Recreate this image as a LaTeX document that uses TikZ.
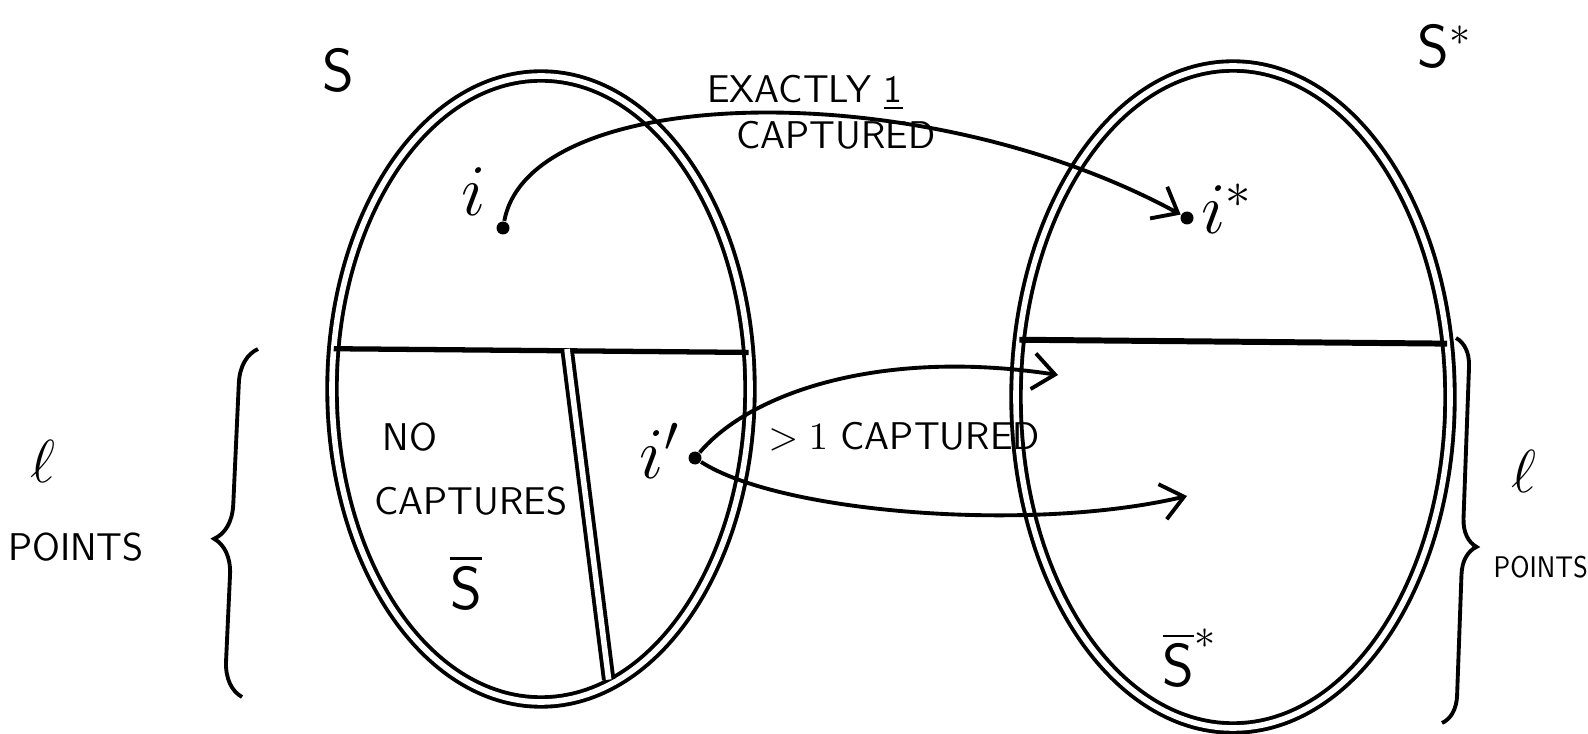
\documentclass[tikz,border=0pt]{standalone}
\usepackage{amsmath}
\usepackage{amssymb}
\usepackage{tikz}
\usetikzlibrary{shapes.geometric,decorations.pathreplacing,arrows.meta}

\begin{document}
\begin{tikzpicture}[>={Straight Barb[length=2.2mm,width=3.6mm]},
    blob/.style={draw, ellipse, double, double distance=1.6pt, line width=1.1pt, inner sep=0pt, outer sep=0pt},
    pt/.style={circle, fill, inner sep=0pt, minimum size=1.3mm},
    txt/.style={font=\sffamily\fontsize{11}{13}\selectfont, inner sep=1pt},
    big/.style={font=\sffamily\LARGE, inner sep=1pt},
    arr/.style={->, line width=1.1pt},
    brc/.style={decorate, line width=1.1pt}]
            \useasboundingbox (0,0) rectangle (15.88,7.33);
            % the two sets
            \node[blob, minimum width=4.18cm, minimum height=6.26cm] (S) at (5.41,3.44) {};
            \node[blob, minimum width=4.34cm, minimum height=6.62cm] (Sst) at (12.33,3.36) {};
            \draw[line width=1.5pt] (S.169.1) -- (S.10.9);
            \draw[double, double distance=1.6pt, line width=1.1pt, shorten >=1.5pt] (5.67,3.84) -- (S.-77.7);
            \draw[line width=1.7pt] (Sst.165.1) -- (Sst.14.9);
            \node[big] (lS) at (3.38,6.63) {S};
            \node[big] (lSst) at (14.45,6.87) {S\(^{*}\)};
            \node[big] (Sbar) at (4.66,1.51) {\(\overline{\mathsf{S}}\)};
            \node[big] (Sbarst) at (11.90,0.75) {\(\overline{\mathsf{S}}^{*}\)};
            % points
            \node[pt] (i) at (5.03,5.05) {};
            \node[font=\huge, inner sep=1pt] (li) at (4.74,5.41) {\(i\)};
            \node[pt] (ist) at (11.87,5.15) {};
            \node[font=\huge, inner sep=1pt, anchor=west] (list) at (11.97,5.24) {\(i^{*}\)};
            \node[pt] (ip) at (6.95,2.75) {};
            \node[font=\huge, inner sep=1pt] (lip) at (6.60,2.82) {\(i'\)};
            \coordinate (up) at (10.58,3.58);
            \coordinate (low) at (11.87,2.37);
            % maps
            \draw[arr] (i) .. controls (5.3,6.5) and (9.2,6.6) .. (ist);
            \draw[arr] (ip) .. controls (7.5,3.4) and (8.8,3.85) .. (up);
            \draw[arr] (ip) .. controls (7.8,2.2) and (10.3,2.0) .. (low);
            \node[txt] (exa) at (8.05,6.40) {EXACTLY \underline{1}};
            \node[txt] (cap) at (8.36,5.98) {CAPTURED};
            \node[txt] (gt) at (9.04,2.96) {\(>1\) CAPTURED};
            \node[txt] (no) at (4.10,2.96) {NO};
            \node[txt] (caps) at (4.71,2.32) {CAPTURES};
            % braces
            \draw[brc, decoration={brace, amplitude=10pt, aspect=0.45}] (2.42,0.36) -- (2.58,3.84);
            \draw[brc, decoration={brace, amplitude=8pt, aspect=0.54}] (14.56,3.95) -- (14.42,0.10);
            \node[font=\LARGE, inner sep=1pt] (ell1) at (0.43,2.72) {\(\ell\)};
            \node[txt] (pts1) at (0.76,1.86) {POINTS};
            \node[font=\LARGE, inner sep=1pt] (ell2) at (15.24,2.62) {\(\ell\)};
            \node[font=\sffamily\fontsize{8.5}{10}\selectfont, inner sep=0pt, anchor=west] (pts2) at (14.93,1.66) {\scalebox{0.85}[1]{POINTS}};
        \end{tikzpicture}
\end{document}
